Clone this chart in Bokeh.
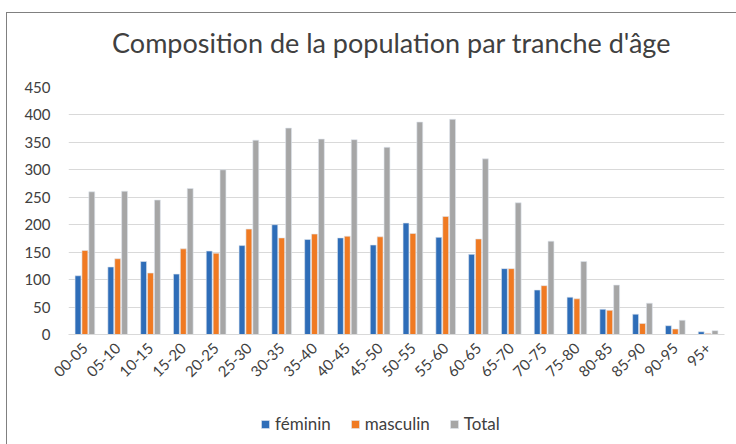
from bokeh.plotting import figure
from bokeh.layouts import column
from bokeh.models import ColumnDataSource, FactorRange, Legend, LegendItem, FixedTicker, Label
from bokeh.transform import dodge
from bokeh.embed import file_html
from bokeh.resources import INLINE
import math

categories = ["00-05", "05-10", "10-15", "15-20", "20-25", "25-30", "30-35", "35-40",
              "40-45", "45-50", "50-55", "55-60", "60-65", "65-70", "70-75", "75-80",
              "80-85", "85-90", "90-95", "95+"]
feminin = [107, 123, 133, 110, 152, 162, 200, 173, 176, 163, 203, 177, 146, 120, 81, 68, 46, 37, 16, 5]
masculin = [153, 138, 112, 156, 148, 192, 176, 183, 179, 178, 184, 215, 174, 120, 89, 65, 44, 20, 10, 2]
total = [260, 261, 245, 266, 300, 354, 376, 356, 355, 341, 387, 392, 320, 240, 170, 133, 90, 57, 26, 7]
y_ticks = [0, 50, 100, 150, 200, 250, 300, 350, 400, 450]
title_text = "Composition de la population par tranche d'âge"
series_names = ["féminin", "masculin", "Total"]
colors = ["#2E6DB8", "#F07A22", "#A6A6A6"]

src = ColumnDataSource(data=dict(cat=categories, f=feminin, m=masculin, t=total))

font = "Lato"
text_color = "#404040"


def strip(height, y_max):
    f = figure(width=730, height=height, x_range=(0, 1), y_range=(0, y_max), title=None,
               output_backend="svg", toolbar_location=None, tools="",
               min_border_left=61, min_border_right=13, min_border_top=0, min_border_bottom=0)
    f.axis.visible = False
    f.grid.grid_line_color = None
    f.outline_line_color = None
    f.background_fill_color = "white"
    f.border_fill_color = "white"
    return f


# title strip
p0 = strip(64, 64)
p0.add_layout(Label(x=0.4924, y=35, text=title_text, text_font=font, text_font_size="27px",
                    text_color=text_color, text_align="center", text_baseline="alphabetic"))

# main chart
p = figure(x_range=FactorRange(*categories, range_padding=0, factor_padding=0),
           y_range=(0, 450), width=730, height=323, title=None,
           output_backend="svg", toolbar_location=None, tools="",
           min_border_left=61, min_border_right=13, min_border_top=10, min_border_bottom=66)

w = 0.18
off = 0.21
for col, o, c in zip(["f", "m", "t"], [-off, 0, off], colors):
    p.vbar(x=dodge("cat", o, range=p.x_range), top=col, width=w, source=src,
           fill_color=c, line_color="#dfe6ee", line_width=0.6)

p.outline_line_color = None
p.background_fill_color = "white"
p.border_fill_color = "white"
p.xgrid.grid_line_color = None
p.ygrid.grid_line_color = "#D9D9D9"
p.ygrid.grid_line_width = 1
p.yaxis.ticker = FixedTicker(ticks=y_ticks)
p.yaxis.axis_line_color = None
p.yaxis.major_tick_line_color = None
p.yaxis.minor_tick_line_color = None
p.yaxis.major_tick_out = 0
p.yaxis.minor_tick_out = 0
p.yaxis.major_label_text_font = font
p.yaxis.major_label_text_font_size = "15px"
p.yaxis.major_label_text_color = text_color
p.yaxis.major_label_standoff = 18

p.xaxis.axis_line_color = "#D9D9D9"
p.xaxis.major_tick_line_color = None
p.xaxis.minor_tick_line_color = None
p.xaxis.major_tick_out = 0
p.xaxis.minor_tick_out = 0
p.xaxis.major_label_orientation = math.pi / 4
p.xaxis.major_label_text_font = font
p.xaxis.major_label_text_font_size = "15px"
p.xaxis.major_label_text_color = text_color
p.xaxis.major_label_standoff = 11

# legend strip (swatch renderers lie below its visible range)
p2 = strip(45, 1)
swatches = [p2.vbar(x=[0.5], top=[-1], bottom=[-2], width=0.1, fill_color=c,
                    line_color="#dfe6ee", line_width=0.6)
            for c in colors]
legend = Legend(items=[LegendItem(label=n, renderers=[r]) for n, r in zip(series_names, swatches)],
                orientation="horizontal", location=(192, 11),
                label_text_font=font, label_text_font_size="17px", label_text_color=text_color,
                glyph_width=10, glyph_height=10, spacing=19, label_standoff=5,
                padding=2, margin=0, border_line_color=None, background_fill_alpha=0)
p2.add_layout(legend, "center")

layout = column(p0, p, p2, spacing=0)
layout.styles = {"border": "1px solid #808080", "margin-left": "6px", "margin-top": "12px"}

open("out.html", "w").write(file_html(layout, INLINE))
